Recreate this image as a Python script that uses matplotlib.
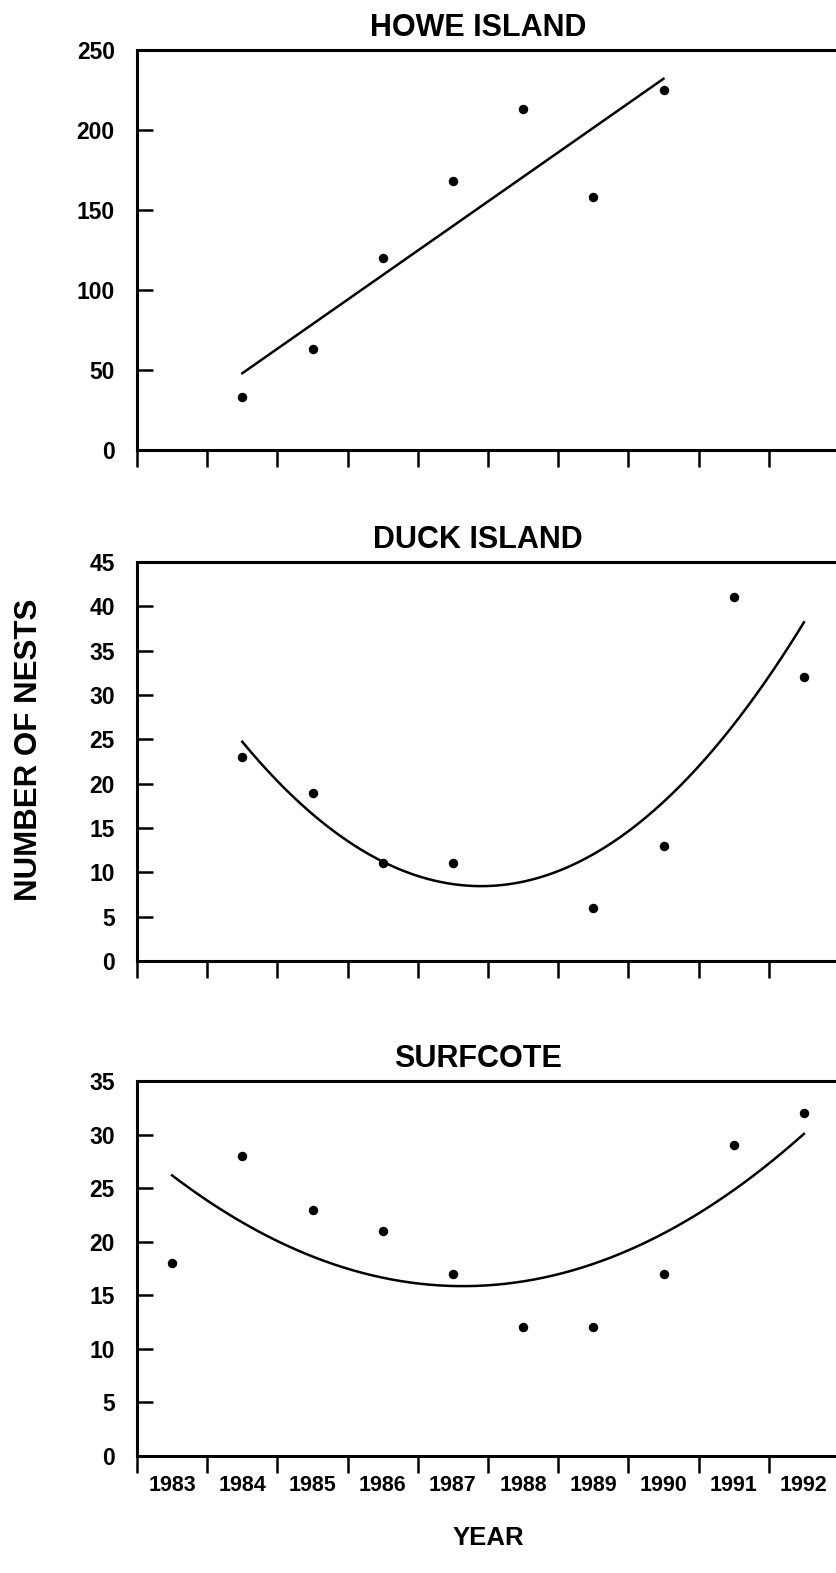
import numpy as np
import matplotlib
matplotlib.use('Agg')
from matplotlib import pyplot as plt

plt.rcParams['font.family'] = ['Liberation Sans', 'DejaVu Sans']
plt.rcParams['font.weight'] = 'bold'

# Howe Island
howe_years = [1984, 1985, 1986, 1987, 1988, 1989, 1990]
howe_nests = [33, 63, 120, 168, 213, 158, 225]

# Duck Island (no count for 1988)
duck_years = [1984, 1985, 1986, 1987, 1989, 1990, 1991, 1992]
duck_nests = [23, 19, 11, 11, 6, 13, 41, 32]

# Surfcote
surf_years = [1983, 1984, 1985, 1986, 1987, 1988, 1989, 1990, 1991, 1992]
surf_nests = [18, 28, 23, 21, 17, 12, 12, 17, 29, 32]

year_labels = [str(y) for y in range(1983, 1993)]

panels = [
    ('HOWE ISLAND', howe_years, howe_nests, 1, 250, 50),
    ('DUCK ISLAND', duck_years, duck_nests, 2, 45, 5),
    ('SURFCOTE', surf_years, surf_nests, 2, 35, 5),
]

W, H = 837, 1573
fig = plt.figure(figsize=(W / 100, H / 100), dpi=100)

# axes boxes in pixels: (top, bottom)
boxes = [(50, 450), (562, 961), (1081, 1456)]
left_px, right_px = 137, 839

for i, (title, years, nests, deg, ymax, ystep) in enumerate(panels):
    top, bottom = boxes[i]
    ax = fig.add_axes([left_px / W, 1 - bottom / H,
                       (right_px - left_px) / W, (bottom - top) / H])

    # fitted trend line over the years with data
    coef = np.polyfit(years, nests, deg)
    xs = np.linspace(min(years), max(years), 200)
    ax.plot(xs, np.polyval(coef, xs), color='black', lw=1.8)
    ax.plot(years, nests, 'o', color='black', ms=5.8)

    ax.set_xlim(1982.5, 1992.5)
    ax.set_ylim(0, ymax)
    ax.set_yticks(np.arange(0, ymax + 1, ystep))

    # year boundaries carry the tick marks, year centres carry the labels
    ax.set_xticks(np.arange(1982.5, 1992.5, 1))
    ax.set_xticklabels([])
    ax.tick_params(axis='x', which='major', direction='out', length=12, width=1.8)
    if i == 2:
        ax.set_xticks(np.arange(1983, 1993), minor=True)
        ax.set_xticklabels(year_labels, minor=True, fontsize=15.5)
    ax.tick_params(axis='x', which='minor', length=0, pad=14)
    ax.tick_params(axis='y', direction='in', length=11.5, width=1.8,
                   labelsize=16.5, pad=16)

    for side in ['left', 'top', 'bottom']:
        ax.spines[side].set_linewidth(2.2)
    ax.spines['right'].set_visible(False)

    fig.text(478 / W, 1 - (top - 22) / H, title, ha='center', va='center',
             fontsize=22)

fig.text(488 / W, 1 - 1538 / H, 'YEAR', ha='center', va='center', fontsize=18.5)
fig.text(29 / W, 1 - 750 / H, 'NUMBER OF NESTS', ha='center', va='center',
         rotation=90, fontsize=22.5)

fig.savefig('out.png', dpi=100)
